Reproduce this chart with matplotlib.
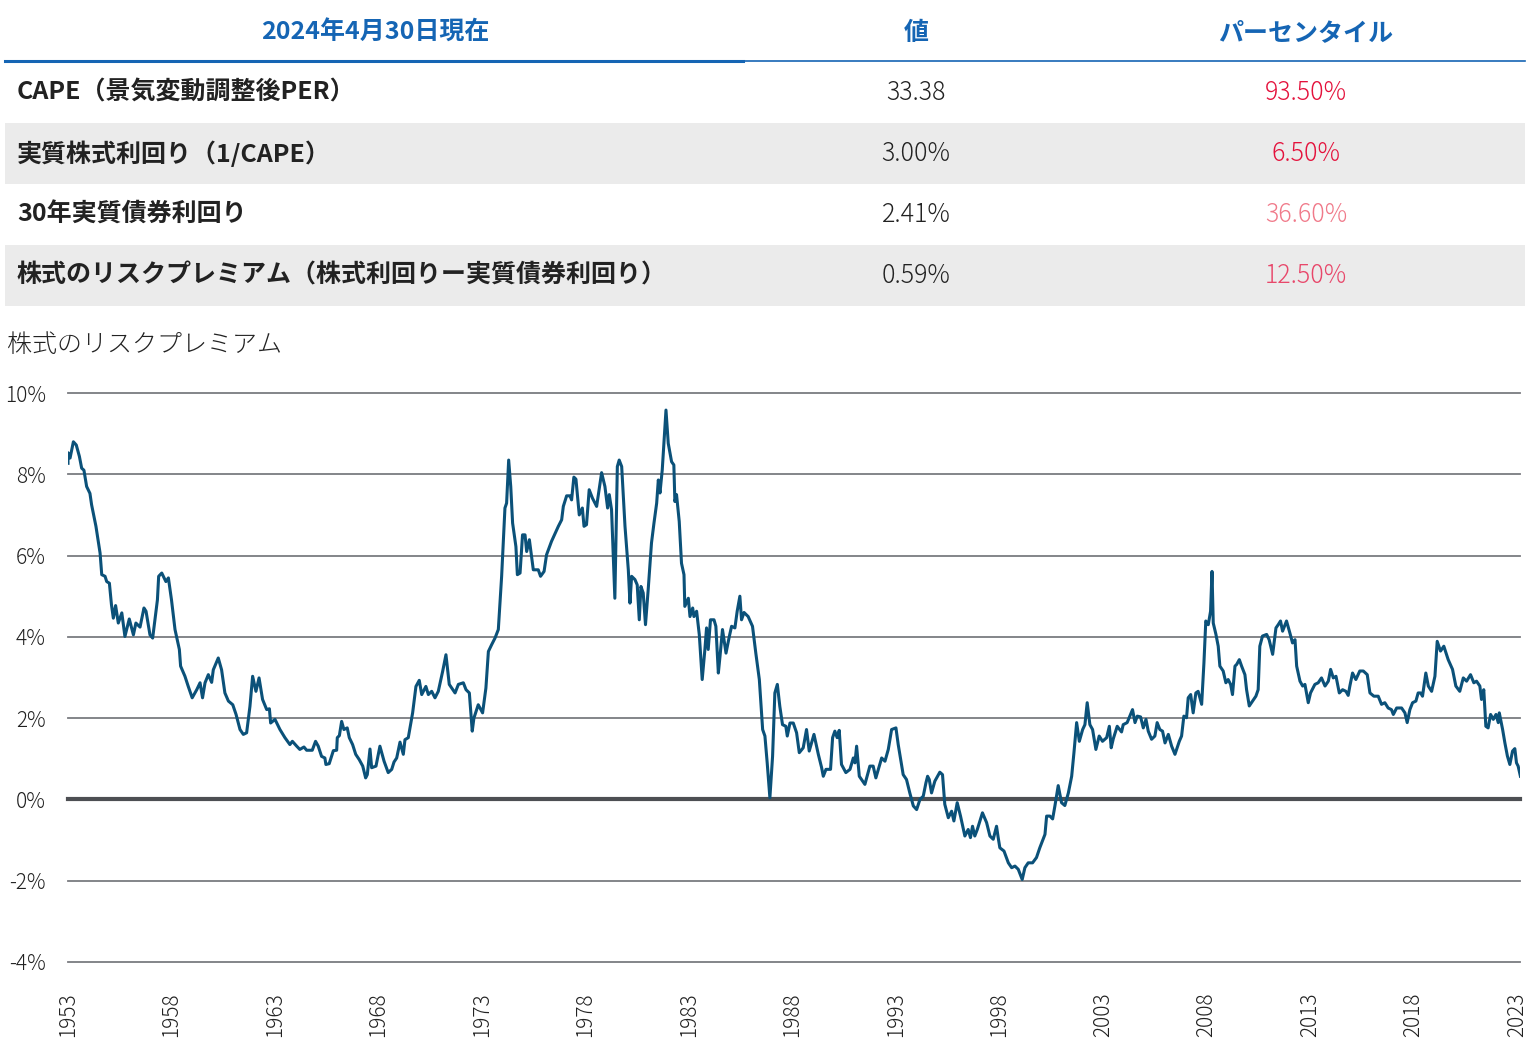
import matplotlib
matplotlib.use("Agg")
import matplotlib.pyplot as plt
from matplotlib.patches import Rectangle
from matplotlib.lines import Line2D

plt.rcParams['font.family'] = ['Noto Sans CJK JP', 'DejaVu Sans']

# テーブル
header = ["2024年4月30日現在", "値", "パーセンタイル"]
row_labels = ["CAPE（景気変動調整後PER）", "実質株式利回り（1/CAPE）", "30年実質債券利回り",
              "株式のリスクプレミアム（株式利回りー実質債券利回り）"]
row_values = ["33.38", "3.00%", "2.41%", "0.59%"]
row_pct = ["93.50%", "6.50%", "36.60%", "12.50%"]
pct_colors = ["#e4123c", "#e4123c", "#f07a8a", "#e8476a"]

# 株式のリスクプレミアム (%)
years = [1953.0, 1953.0, 1953.1, 1953.26, 1953.4, 1953.55, 1953.66, 1953.77, 1953.9, 1954.06,
         1954.14, 1954.35, 1954.55, 1954.63, 1954.79, 1954.87, 1955.0, 1955.1, 1955.19, 1955.3,
         1955.43, 1955.6, 1955.75, 1955.96, 1956.16, 1956.28, 1956.48, 1956.67, 1956.77, 1956.96,
         1957.09, 1957.32, 1957.38, 1957.53, 1957.73, 1957.85, 1958.0, 1958.17, 1958.38, 1958.44,
         1958.65, 1958.81, 1959.0, 1959.22, 1959.38, 1959.5, 1959.62, 1959.78, 1959.94, 1960.02,
         1960.26, 1960.42, 1960.58, 1960.75, 1960.96, 1961.12, 1961.31, 1961.47, 1961.63, 1961.79,
         1961.92, 1962.08, 1962.23, 1962.4, 1962.6, 1962.73, 1962.79, 1963.0, 1963.24, 1963.48,
         1963.72, 1963.84, 1964.05, 1964.2, 1964.4, 1964.53, 1964.8, 1964.96, 1965.09, 1965.25,
         1965.41, 1965.46, 1965.62, 1965.82, 1965.98, 1966.01, 1966.11, 1966.22, 1966.33, 1966.49,
         1966.59, 1966.75, 1966.9, 1967.07, 1967.24, 1967.38, 1967.46, 1967.59, 1967.67, 1967.88,
         1968.07, 1968.27, 1968.47, 1968.64, 1968.75, 1968.88, 1969.04, 1969.2, 1969.28, 1969.44,
         1969.65, 1969.81, 1969.97, 1970.09, 1970.29, 1970.41, 1970.57, 1970.73, 1970.89, 1971.1,
         1971.26, 1971.42, 1971.7, 1971.86, 1972.1, 1972.23, 1972.39, 1972.53, 1972.61, 1972.82,
         1973.03, 1973.19, 1973.31, 1973.47, 1973.63, 1973.79, 1973.95, 1974.11, 1974.19, 1974.29,
         1974.39, 1974.48, 1974.64, 1974.71, 1974.84, 1974.96, 1975.08, 1975.16, 1975.29, 1975.48,
         1975.72, 1975.83, 1976.0, 1976.12, 1976.36, 1976.69, 1976.85, 1976.93, 1977.09, 1977.25,
         1977.33, 1977.44, 1977.54, 1977.7, 1977.85, 1977.93, 1978.05, 1978.18, 1978.34, 1978.54,
         1978.78, 1978.94, 1979.07, 1979.15, 1979.26, 1979.42, 1979.54, 1979.63, 1979.75, 1979.91,
         1980.07, 1980.15, 1980.23, 1980.39, 1980.5, 1980.6, 1980.68, 1980.79, 1980.9, 1981.03,
         1981.19, 1981.31, 1981.44, 1981.52, 1981.6, 1981.71, 1981.79, 1981.89, 1982.0, 1982.16,
         1982.27, 1982.32, 1982.4, 1982.53, 1982.64, 1982.76, 1982.8, 1982.97, 1983.05, 1983.18,
         1983.24, 1983.37, 1983.5, 1983.64, 1983.77, 1983.85, 1983.93, 1984.04, 1984.21, 1984.3,
         1984.42, 1984.5, 1984.62, 1984.79, 1984.95, 1985.06, 1985.22, 1985.33, 1985.46, 1985.54,
         1985.66, 1985.86, 1986.07, 1986.23, 1986.4, 1986.56, 1986.67, 1986.78, 1986.91, 1987.04,
         1987.15, 1987.27, 1987.39, 1987.52, 1987.68, 1987.75, 1987.88, 1988.04, 1988.2, 1988.33,
         1988.52, 1988.68, 1988.81, 1989.04, 1989.25, 1989.41, 1989.49, 1989.62, 1989.84, 1989.94,
         1990.05, 1990.16, 1990.26, 1990.37, 1990.58, 1990.78, 1990.94, 1991.02, 1991.1, 1991.23,
         1991.5, 1991.74, 1991.9, 1992.03, 1992.31, 1992.47, 1992.63, 1992.79, 1993.0, 1993.11,
         1993.35, 1993.51, 1993.67, 1993.84, 1994.0, 1994.16, 1994.32, 1994.45, 1994.53, 1994.61,
         1994.72, 1994.88, 1995.12, 1995.25, 1995.36, 1995.53, 1995.69, 1995.8, 1995.96, 1996.12,
         1996.33, 1996.49, 1996.6, 1996.7, 1996.81, 1996.93, 1997.18, 1997.38, 1997.54, 1997.7,
         1997.86, 1997.94, 1998.02, 1998.22, 1998.43, 1998.59, 1998.75, 1998.91, 1999.1, 1999.23,
         1999.39, 1999.6, 1999.79, 1999.95, 2000.2, 2000.28, 2000.44, 2000.57, 2000.68, 2000.84,
         2001.0, 2001.16, 2001.33, 2001.49, 2001.6, 2001.73, 2001.86, 2002.02, 2002.13, 2002.24,
         2002.37, 2002.5, 2002.66, 2002.82, 2002.98, 2003.18, 2003.31, 2003.4, 2003.5, 2003.69,
         2003.9, 2003.98, 2004.17, 2004.3, 2004.43, 2004.55, 2004.66, 2004.82, 2004.95, 2005.08,
         2005.19, 2005.35, 2005.51, 2005.62, 2005.75, 2005.88, 2006.0, 2006.16, 2006.32, 2006.48,
         2006.69, 2006.8, 2006.91, 2007.04, 2007.12, 2007.24, 2007.36, 2007.49, 2007.6, 2007.77,
         2007.88, 2007.97, 2008.09, 2008.2, 2008.27, 2008.33, 2008.46, 2008.57, 2008.65, 2008.81,
         2008.94, 2009.05, 2009.17, 2009.26, 2009.38, 2009.46, 2009.59, 2009.7, 2009.86, 2009.94,
         2010.07, 2010.23, 2010.39, 2010.5, 2010.58, 2010.71, 2010.91, 2011.03, 2011.2, 2011.36,
         2011.47, 2011.58, 2011.68, 2011.87, 2012.03, 2012.16, 2012.28, 2012.36, 2012.52, 2012.65,
         2012.76, 2012.92, 2013.03, 2013.24, 2013.4, 2013.56, 2013.73, 2013.89, 2014.0, 2014.13,
         2014.26, 2014.42, 2014.58, 2014.74, 2014.85, 2014.93, 2015.06, 2015.22, 2015.41, 2015.58,
         2015.77, 2015.9, 2016.09, 2016.3, 2016.46, 2016.62, 2016.78, 2016.94, 2017.03, 2017.19,
         2017.43, 2017.59, 2017.7, 2017.83, 2017.96, 2018.12, 2018.23, 2018.35, 2018.44, 2018.6,
         2018.72, 2018.88, 2019.04, 2019.15, 2019.31, 2019.47, 2019.68, 2019.89, 2020.05, 2020.24,
         2020.41, 2020.57, 2020.76, 2020.92, 2021.05, 2021.21, 2021.29, 2021.4, 2021.5, 2021.61,
         2021.73, 2021.86, 2021.99, 2022.1, 2022.15, 2022.31, 2022.42, 2022.54, 2022.66, 2022.79,
         2022.9, 2022.98, 2023.06, 2023.17]
premium = [8.27, 8.53, 8.4, 8.8, 8.72, 8.44, 8.15, 8.1, 7.7, 7.53,
           7.25, 6.72, 6.06, 5.53, 5.49, 5.36, 5.32, 4.79, 4.46, 4.77,
           4.34, 4.59, 4.01, 4.44, 4.05, 4.34, 4.24, 4.71, 4.63, 4.05,
           3.97, 4.91, 5.49, 5.57, 5.36, 5.45, 4.91, 4.18, 3.69, 3.28,
           3.03, 2.78, 2.5, 2.7, 2.87, 2.5, 2.87, 3.07, 2.88, 3.19,
           3.48, 3.19, 2.62, 2.42, 2.33, 2.09, 1.72, 1.6, 1.64, 2.29,
           3.03, 2.66, 2.99, 2.46, 2.21, 2.23, 1.88, 1.97, 1.72, 1.52,
           1.35, 1.43, 1.31, 1.23, 1.29, 1.21, 1.21, 1.43, 1.31, 1.06,
           1.02, 0.86, 0.88, 1.2, 1.21, 1.52, 1.57, 1.92, 1.72, 1.76,
           1.52, 1.35, 1.11, 0.98, 0.82, 0.53, 0.61, 1.24, 0.78, 0.82,
           1.31, 0.94, 0.66, 0.74, 0.92, 1.02, 1.41, 1.11, 1.47, 1.52,
           2.13, 2.78, 2.93, 2.58, 2.78, 2.58, 2.66, 2.5, 2.66, 3.15,
           3.56, 2.83, 2.62, 2.83, 2.87, 2.7, 2.62, 1.68, 2.0, 2.33,
           2.13, 2.74, 3.64, 3.81, 3.97, 4.18, 5.49, 7.17, 7.29, 8.35,
           7.7, 6.8, 6.22, 5.53, 5.57, 6.51, 6.51, 6.1, 6.39, 5.65,
           5.65, 5.49, 5.61, 6.02, 6.35, 6.72, 6.88, 7.21, 7.47, 7.47,
           7.37, 7.93, 7.88, 7.0, 7.17, 6.72, 6.76, 7.62, 7.41, 7.21,
           8.04, 7.7, 7.17, 7.5, 7.13, 4.95, 8.19, 8.35, 8.19, 6.72,
           5.65, 4.83, 5.49, 5.41, 5.28, 4.42, 5.24, 5.08, 4.3, 5.16,
           6.31, 6.8, 7.29, 7.86, 7.54, 8.11, 8.76, 9.58, 8.76, 8.31,
           8.23, 7.33, 7.5, 6.84, 5.81, 5.53, 4.75, 4.95, 4.5, 4.71,
           4.5, 4.63, 4.05, 2.95, 3.69, 4.22, 3.69, 4.42, 4.42, 4.26,
           3.11, 3.52, 4.18, 3.6, 4.01, 4.26, 4.22, 4.63, 5.0, 4.42,
           4.6, 4.5, 4.26, 3.6, 2.95, 1.72, 1.56, 0.9, 0.04, 1.06,
           2.62, 2.83, 2.29, 1.84, 1.8, 1.56, 1.88, 1.88, 1.64, 1.15,
           1.27, 1.72, 1.19, 1.6, 1.11, 0.78, 0.57, 0.74, 0.74, 1.52,
           1.68, 1.52, 1.7, 0.86, 0.66, 0.74, 1.02, 0.9, 1.31, 0.57,
           0.37, 0.82, 0.82, 0.53, 1.02, 0.94, 1.23, 1.72, 1.76, 1.35,
           0.61, 0.49, 0.16, -0.16, -0.25, 0.0, 0.08, 0.41, 0.57, 0.49,
           0.16, 0.45, 0.67, 0.61, -0.12, -0.45, -0.29, -0.53, -0.08, -0.41,
           -0.9, -0.74, -0.94, -0.66, -0.9, -0.74, -0.33, -0.57, -0.9, -0.98,
           -0.66, -0.94, -1.19, -1.27, -1.56, -1.68, -1.64, -1.72, -1.97, -1.68,
           -1.56, -1.56, -1.43, -1.19, -0.86, -0.41, -0.41, -0.48, -0.16, 0.34,
           -0.08, -0.15, 0.16, 0.57, 1.15, 1.89, 1.43, 1.72, 1.84, 2.38,
           1.84, 1.72, 1.23, 1.56, 1.43, 1.52, 1.8, 1.27, 1.49, 1.8,
           1.66, 1.84, 1.89, 2.05, 2.21, 1.89, 2.05, 2.03, 1.76, 1.97,
           1.68, 1.48, 1.56, 1.89, 1.72, 1.68, 1.39, 1.6, 1.31, 1.11,
           1.43, 1.56, 2.05, 2.01, 2.5, 2.58, 2.13, 2.62, 2.66, 2.34,
           3.36, 4.39, 4.3, 4.63, 5.61, 4.34, 4.06, 3.77, 3.28, 3.16,
           2.87, 2.95, 2.83, 2.58, 3.28, 3.32, 3.44, 3.28, 3.07, 2.7,
           2.3, 2.42, 2.54, 2.7, 3.77, 4.02, 4.06, 3.93, 3.57, 4.22,
           4.3, 4.39, 4.14, 4.39, 4.1, 3.85, 3.93, 3.28, 2.91, 2.79,
           2.83, 2.38, 2.62, 2.83, 2.87, 2.99, 2.79, 2.91, 3.2, 2.99,
           3.03, 2.62, 2.7, 2.66, 2.56, 2.79, 3.11, 2.95, 3.16, 3.16,
           3.07, 2.62, 2.54, 2.54, 2.34, 2.38, 2.25, 2.21, 2.09, 2.25,
           2.25, 2.13, 1.89, 2.21, 2.38, 2.42, 2.62, 2.62, 2.54, 3.11,
           2.79, 2.66, 3.03, 3.89, 3.65, 3.77, 3.44, 3.2, 2.79, 2.66,
           2.99, 2.91, 3.07, 2.87, 2.91, 2.79, 2.46, 2.7, 1.8, 1.76,
           2.09, 1.97, 2.09, 1.89, 2.13, 1.72, 1.39, 1.07, 0.86, 1.19,
           1.25, 0.9, 0.82, 0.57]
xtick_years = list(range(1953, 2024, 5))
ytick_vals = [-4, -2, 0, 2, 4, 6, 8, 10]

W, H = 1532, 1046
fig = plt.figure(figsize=(W / 100, H / 100), dpi=100)

def fx(px):
    return px / W

def fy(py):
    return 1 - py / H

blue = "#1565b4"
text_dark = "#222222"
fs = 18

# テーブル描画
fig.text(fx(375), fy(33), header[0], color=blue, fontsize=fs, fontweight='bold', ha='center', va='center')
fig.text(fx(916), fy(33), header[1], color=blue, fontsize=fs, fontweight='bold', ha='center', va='center')
fig.text(fx(1306), fy(33), header[2], color=blue, fontsize=fs, fontweight='bold', ha='center', va='center')
fig.add_artist(Line2D([fx(5), fx(743)], [fy(61), fy(61)], color=blue, lw=2.2))
fig.add_artist(Line2D([fx(743), fx(1525)], [fy(61), fy(61)], color=blue, lw=1.2))

row_top = 62
row_h = 61
for i, (lab, val, pct) in enumerate(zip(row_labels, row_values, row_pct)):
    y0 = row_top + i * row_h
    if i % 2 == 1:
        fig.add_artist(Rectangle((fx(5), fy(y0 + row_h)), fx(1520), row_h / H,
                                 facecolor="#ebebeb", edgecolor='none'))
    yc = y0 + row_h / 2
    fig.text(fx(17), fy(yc), lab, color=text_dark, fontsize=fs, fontweight='bold', ha='left', va='center')
    fig.text(fx(916), fy(yc), val, color=text_dark, fontsize=fs, fontweight='light', ha='center', va='center')
    fig.text(fx(1306), fy(yc), pct, color=pct_colors[i], fontsize=fs, fontweight='light', ha='center', va='center')

fig.text(fx(7), fy(345), "株式のリスクプレミアム", color=text_dark, fontsize=fs, fontweight='light',
         ha='left', va='center')

# チャート
ax = fig.add_axes([fx(68), fy(962), fx(1520 - 68), (962 - 393) / H])
for v in ytick_vals:
    ax.axhline(v, color="#4d4f53" if v == 0 else "#7a7c80",
               lw=3 if v == 0 else 1.3, zorder=1, clip_on=False)
ax.plot(years, premium, color="#0b5179", lw=2.2, zorder=3)
ax.set_xlim(1953, 2023.15)
ax.set_ylim(-4, 10)
ax.set_yticks(ytick_vals)
ax.set_yticklabels([f"{v}%" for v in ytick_vals], fontweight='light')
ax.set_xticks(xtick_years)
ax.set_xticklabels([str(y) for y in xtick_years], rotation=90, fontweight='light')
ax.tick_params(axis='both', length=0, labelsize=15, colors=text_dark)
ax.tick_params(axis='y', pad=16)
ax.tick_params(axis='x', pad=22)
for s in ax.spines.values():
    s.set_visible(False)

fig.savefig("out.png", dpi=100, facecolor='white')
